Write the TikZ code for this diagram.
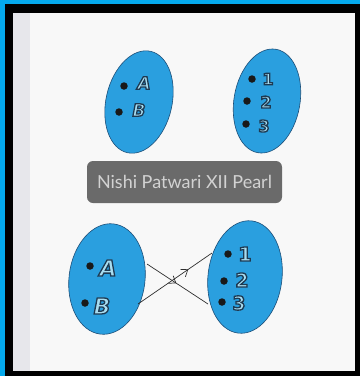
\documentclass[tikz,border=0pt]{standalone}
\usepackage{fontspec}
\usetikzlibrary{shapes.geometric,decorations.markings,arrows.meta}
\newfontfamily\wmfont{Lato}
\newfontfamily\letfont{DejaVu Sans}
\definecolor{framecyan}{HTML}{04A9EC}
\definecolor{pagewhite}{HTML}{F8F8F8}
\definecolor{stripgray}{HTML}{E7E7EB}
\definecolor{setblue}{HTML}{2A9FDF}
\definecolor{setedge}{HTML}{1C4E78}
\definecolor{letfill}{HTML}{A9DDF0}
\definecolor{wmbox}{HTML}{6A6A6A}
\definecolor{wmtext}{HTML}{D2D2D2}
\definecolor{linkcol}{HTML}{2E2E2E}
% outlined letters: fill in letfill, stroke in dark blue-grey
\newcommand{\hollow}[1]{\textcolor{letfill}{\special{pdf:literal 2 Tr 1.3 w 0.118 0.227 0.322 RG}#1\special{pdf:literal 0 Tr}}}
\begin{document}
\begin{tikzpicture}[x=1pt,y=-1pt,
  setshape/.style={ellipse, draw=setedge, line width=0.6pt, fill=setblue, inner sep=0pt},
  elemdot/.style={circle, fill=black!90, inner sep=0pt, minimum size=7.5pt},
  smalllab/.style={inner sep=0pt, font=\letfont\bfseries\itshape\fontsize{17}{17}\selectfont},
  smallnum/.style={inner sep=0pt, font=\letfont\bfseries\fontsize{16}{16}\selectfont},
  biglab/.style={inner sep=0pt, font=\letfont\bfseries\itshape\fontsize{22}{22}\selectfont},
  bignum/.style={inner sep=0pt, font=\letfont\bfseries\fontsize{19}{19}\selectfont},
  link/.style={draw=linkcol, line width=0.7pt},
  midarrow/.style={postaction={decorate}, decoration={markings, mark=at position #1 with {\arrow[linkcol, line width=0.7pt]{Straight Barb[length=6pt,width=9pt]}}}},
  wm/.style={fill=wmbox, rounded corners=6pt, text=wmtext, minimum width=195pt, minimum height=42pt, inner sep=0pt, font=\wmfont\fontsize{18}{18}\selectfont}
]
\useasboundingbox (0,0) rectangle (360,376);
% frame
\fill[black] (0,0) rectangle (360,376);
\fill[framecyan] (0,0) rectangle (360,4);
\fill[framecyan] (0,0) rectangle (5,376);
\fill[pagewhite] (13,13) rectangle (355,371);
\fill[stripgray] (13,13) rectangle (30,371);

% top sets
\node[setshape, minimum width=66pt, minimum height=104pt, rotate=-13] (TL) at (139,102) {};
\node[setshape, minimum width=66pt, minimum height=105pt, rotate=-10] (TR) at (267,101) {};
\node[elemdot] (tA) at (124,86) {};
\node[elemdot] (tB) at (119,112) {};
\node[smalllab] (tAl) at (144,83) {\hollow{A}};
\node[smalllab] (tBl) at (139,110) {\hollow{B}};
\node[elemdot] (t1) at (252,79) {};
\node[elemdot] (t2) at (247,101) {};
\node[elemdot] (t3) at (246,124) {};
\node[smallnum] (t1l) at (268,79) {\hollow{1}};
\node[smallnum] (t2l) at (266,102) {\hollow{2}};
\node[smallnum] (t3l) at (264,126) {\hollow{3}};

% watermark
\node[wm] (mark) at (184.5,182) {Nishi Patwari XII Pearl};

% bottom sets
\node[setshape, minimum width=76pt, minimum height=111pt, rotate=-7] (BL) at (107,279) {};
\node[setshape, minimum width=74pt, minimum height=113pt, rotate=-7] (BR) at (245,277) {};
\node[elemdot] (bA) at (90,266) {};
\node[elemdot] (bB) at (85,303) {};
\node[biglab] (bAl) at (108,268) {\hollow{A}};
\node[biglab] (bBl) at (102,306) {\hollow{B}};
\node[elemdot] (b1) at (228,254) {};
\node[elemdot] (b2) at (224,281) {};
\node[elemdot] (b3) at (222,302) {};
\node[bignum] (b1l) at (245,254) {\hollow{1}};
\node[bignum] (b2l) at (242,280) {\hollow{2}};
\node[bignum] (b3l) at (239,303) {\hollow{3}};

% connectors
\coordinate (Aout) at (147,264);
\coordinate (Bout) at (138,304);
\coordinate (Oneend) at (212,253);
\coordinate (Threeend) at (208,304);
\draw[link, midarrow=0.48] (Aout) -- (Threeend);
\draw[link, midarrow=0.68] (Bout) -- (Oneend);
\end{tikzpicture}
\end{document}
